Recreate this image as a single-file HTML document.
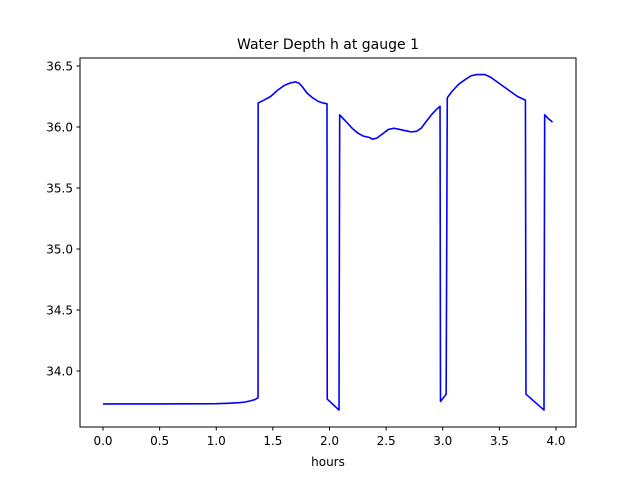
<!DOCTYPE html>
<html><head><meta charset="utf-8"><style>
body{margin:0;background:#fff;}
svg{display:block;font-family:"DejaVu Sans","Liberation Sans",sans-serif;}
</style></head><body>
<svg id="chart" width="640" height="480">
<rect x="0" y="0" width="640" height="480" fill="#fff"/>
<text x="328" y="49" text-anchor="middle" font-size="14">Water Depth h at gauge 1</text>
<g id="plot"></g>
<rect x="80" y="58" width="496" height="369" fill="none" stroke="#000" stroke-width="1"/>
<text x="328" y="466" text-anchor="middle" font-size="12">hours</text>
</svg>
<script>
const hours = [0,0.5,1.0,1.1,1.2,1.25,1.3,1.34,1.369,1.37,1.42,1.48,1.54,1.6,1.65,1.7,1.73,1.76,1.8,1.85,1.9,1.95,1.978,1.98,2.084,2.09,2.15,2.2,2.25,2.3,2.35,2.38,2.42,2.47,2.52,2.57,2.62,2.67,2.72,2.77,2.81,2.85,2.9,2.94,2.976,2.98,3.03,3.04,3.08,3.14,3.2,3.25,3.3,3.37,3.42,3.48,3.54,3.6,3.66,3.73,3.735,3.894,3.9,3.93,3.97];
const depth = [33.73,33.73,33.732,33.735,33.74,33.745,33.755,33.765,33.78,36.197,36.22,36.25,36.3,36.34,36.36,36.37,36.36,36.33,36.28,36.24,36.21,36.195,36.19,33.77,33.68,36.1,36.04,35.99,35.95,35.925,35.915,35.9,35.91,35.945,35.98,35.99,35.98,35.97,35.96,35.965,35.99,36.04,36.1,36.14,36.17,33.75,33.81,36.24,36.29,36.35,36.39,36.42,36.43,36.43,36.41,36.37,36.33,36.29,36.25,36.22,33.81,33.68,36.1,36.07,36.04];
const xTicks = [0,0.5,1.0,1.5,2.0,2.5,3.0,3.5,4.0];
const yTicks = [34.0,34.5,35.0,35.5,36.0,36.5];

const NS="http://www.w3.org/2000/svg";
const plot=document.getElementById('plot');
function X(v){return 103+v*113.25;}
function Y(v){return 66+(36.5-v)*122;}
for(const t of xTicks){
  const l=document.createElementNS(NS,'line');
  l.setAttribute('x1',X(t));l.setAttribute('x2',X(t));l.setAttribute('y1',427);l.setAttribute('y2',430.5);l.setAttribute('stroke','#000');
  
  
  plot.appendChild(l);
  const tx=document.createElementNS(NS,'text');
  tx.setAttribute('x',X(t));tx.setAttribute('y',445);tx.setAttribute('text-anchor','middle');tx.setAttribute('font-size','12');
  tx.textContent=t.toFixed(1);
  
  
  plot.appendChild(tx);
}
for(const t of yTicks){
  const l=document.createElementNS(NS,'line');
  l.setAttribute('x1',76.5);l.setAttribute('x2',80);l.setAttribute('y1',Y(t));l.setAttribute('y2',Y(t));l.setAttribute('stroke','#000');
  
  
  plot.appendChild(l);
  const tx=document.createElementNS(NS,'text');
  tx.setAttribute('x',73);tx.setAttribute('y',Y(t)+4.5);tx.setAttribute('text-anchor','end');tx.setAttribute('font-size','12');
  tx.textContent=t.toFixed(1);
  
  
  plot.appendChild(tx);
}
const p=document.createElementNS(NS,'polyline');
p.setAttribute('points',hours.map((h,i)=>X(h)+','+Y(depth[i])).join(' '));
p.setAttribute('fill','none');p.setAttribute('stroke','#0000ff');p.setAttribute('stroke-width','1.6');p.setAttribute('stroke-linejoin','round');


plot.appendChild(p);
</script>
</body></html>
